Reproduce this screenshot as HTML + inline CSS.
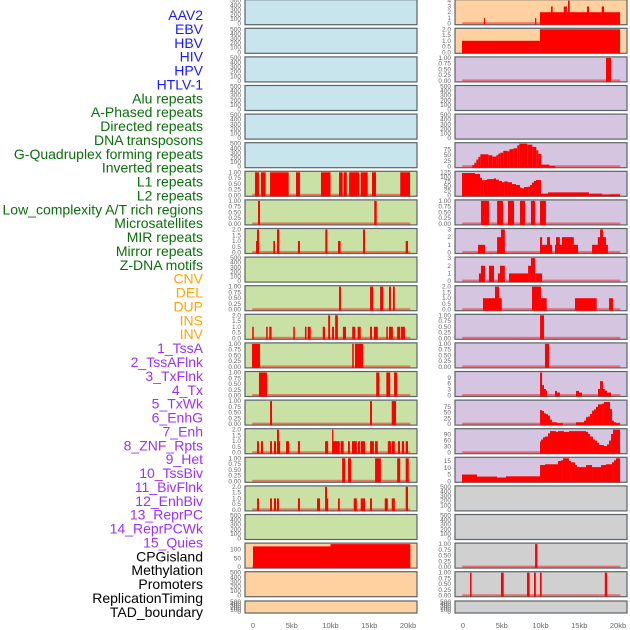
<!DOCTYPE html>
<html><head><meta charset="utf-8"><style>
body{margin:0;background:#fff;width:630px;height:630px;overflow:hidden}
svg{display:block}
</style></head><body>
<svg id="chart" width="630" height="630" xmlns="http://www.w3.org/2000/svg" font-family="Liberation Sans, sans-serif"></svg>
<script>
const trackLabels=["AAV2","EBV","HBV","HIV","HPV","HTLV-1","Alu repeats","A-Phased repeats","Directed repeats","DNA transposons","G-Quadruplex forming repeats","Inverted repeats","L1 repeats","L2 repeats","Low_complexity A/T rich regions","Microsatellites","MIR repeats","Mirror repeats","Z-DNA motifs","CNV","DEL","DUP","INS","INV","1_TssA","2_TssAFlnk","3_TxFlnk","4_Tx","5_TxWk","6_EnhG","7_Enh","8_ZNF_Rpts","9_Het","10_TssBiv","11_BivFlnk","12_EnhBiv","13_ReprPC","14_ReprPCWk","15_Quies","CPGisland","Methylation","Promoters","ReplicationTiming","TAD_boundary"];
const labelGroups=["v","v","v","v","v","v","r","r","r","r","r","r","r","r","r","r","r","r","r","s","s","s","s","s","c","c","c","c","c","c","c","c","c","c","c","c","c","c","c","k","k","k","k","k"];
const xTicks=[0,5,10,15,20];
const xTickLabels=["0","5kb","10kb","15kb","20kb"];
const L6=[[0.26,0.77,1],[1.03,1.63,1],[2.2,4.6,1],[5.55,6.06,1],[8.77,10,1],[11.1,11.57,1],[11.7,12.1,1],[12.4,13.7,1],[13.9,14.8,1],[15.35,15.87,1],[19,20.26,1]];
const L7=[[0.65,0.9,1],[15.65,15.96,1]];
const L8=[[0.39,0.6,1],[0.52,0.77,2],[2.62,2.84,1],[3.1,3.4,2],[5.8,6.06,1],[9.33,9.6,2],[10.97,11.3,1],[14.2,14.45,2],[19.7,20,1]];
const L10=[[11.1,11.35,1],[15.1,15.5,1],[16.4,16.8,1],[17.55,17.8,1],[18.06,18.3,1]];
const L11=[[-0.1,0.1,1],[1.7,1.9,1],[2.1,2.4,1],[5.2,5.4,1],[6.7,6.9,1],[7.05,7.45,1],[9,9.3,1],[9.7,9.95,2],[10.2,10.45,1],[10.6,10.95,2],[11.6,12,1],[12.8,13.2,1],[13.5,13.9,1],[15.1,15.35,1],[15.6,16.1,1],[17.2,17.4,1],[17.55,18.05,1],[18.6,19,1],[19.1,19.6,1]];
const L12=[[-0.13,0.9,1],[12.8,13,1],[13.16,14.2,1]];
const L13=[[0.77,1.8,1],[15.9,16.3,1],[17.2,17.7,1],[18.2,18.6,1]];
const L14=[[2.2,2.45,1],[15.1,15.35,1],[17.9,18.45,1]];
const L15=[[0.52,0.77,1],[1.03,1.3,1],[2.2,2.45,1],[2.7,2.97,1],[3.1,3.5,1],[3.1,3.35,2],[4.26,4.65,1],[5.8,6.06,1],[9.3,9.7,1],[10.2,11.2,1],[10.2,10.37,2],[11.3,11.7,1],[12.26,12.5,1],[12.77,13.4,1],[13.55,13.8,1],[13.9,14.45,1],[15.1,15.6,1],[15.75,16.1,1],[17.4,17.8,1],[17.9,18.3,1],[18.7,18.97,1],[19.2,19.5,1],[19.7,20,1]];
const L16=[[11.5,11.9,1],[12.26,12.65,1],[15.75,16.5,1],[18.6,19,1],[19.7,20.1,1]];
const L17=[[0.52,0.77,1],[2.2,2.45,1],[2.7,2.97,1],[3.1,3.35,1],[5.8,6.06,1],[8.26,8.65,1],[9.4,9.7,1],[9.3,9.55,2],[10.97,11.2,1],[13,13.4,1],[13.9,14.45,1],[15.1,15.35,1],[17,17.4,1],[17.9,18.3,1],[19.7,20,2]];
const L19=[[0,10,117],[10,20.3,130]];
const R0=[[2.7,2.84,1],[9.3,9.46,1],[9.93,20.26,2],[11.35,11.57,3],[13,13.4,3],[13.55,13.76,4],[16,16.25,3],[17.9,18.2,3]];
const R1=[[-0.13,9.93,1],[9.93,20.26,2]];
const R2=[[18.45,19.1,1]];
const R5=[[1.2,1.46,7],[1.46,1.72,17],[1.72,1.98,31],[1.98,2.24,43],[2.24,3.27,54],[3.27,3.78,50],[3.78,4.3,44],[4.3,4.56,50],[4.56,4.82,57],[4.82,5.2,61],[5.2,5.72,69],[5.72,5.98,67],[5.98,6.5,76],[6.5,7,80],[7,7.27,93],[7.27,8.3,100],[8.3,8.95,96],[8.95,9.46,86],[9.46,9.72,71],[9.72,10.1,56],[10.1,11.14,9],[11.14,11.9,3]];
const R6=[[-0.13,1.55,121],[1.55,2.2,116],[2.2,2.45,95],[2.45,2.7,82],[2.7,3.1,83],[3.1,4,88],[4,4.26,92],[4.26,4.65,85],[4.65,5.03,78],[5.03,5.3,71],[5.3,5.8,75],[5.8,6.32,71],[6.32,6.84,61],[6.84,7.35,56],[7.35,7.6,42],[7.6,7.87,38],[7.87,8.4,45],[8.4,8.65,47],[8.65,8.9,56],[8.9,9.16,69],[9.16,9.42,78],[9.42,10.06,83],[10.06,10.97,9],[10.97,16.26,16],[16.26,17.94,9],[17.94,18.97,3],[18.97,20.26,5]];
const R7=[[2.32,3.35,1],[4.4,5.16,1],[5.8,6.58,1],[7.35,8,1],[8.77,9.3,1],[9.94,10.7,1]];
const R8=[[1.94,2.84,1],[4.4,4.9,2],[4.9,5.4,3],[9.94,11.5,1],[9.94,10.2,2],[10.84,11.23,2],[11.87,14.84,1],[12,12.5,2],[12.77,14.3,2],[16.65,18.7,1],[17.4,18.45,2],[17.68,18.06,3]];
const R9=[[2.06,2.32,1],[2.32,2.84,2],[3.35,4,2],[4.5,4.77,1],[4.77,5.4,2],[5.94,8.4,1],[8.4,8.77,2],[8.77,9.3,3],[9.3,10.2,1]];
const R10=[[2.58,4.13,1],[4.13,4.65,2],[4.65,5,1],[8.9,10.06,2],[10.06,10.8,1],[14.45,17.25,1],[18.84,19.35,1]];
const R11=[[9.94,10.45,1]];
const R12=[[10.58,11.1,1]];
const R13=[[9.94,10.2,11.7],[10.2,10.45,5.3],[10.45,10.7,3.3],[10.7,10.84,2.5],[11.87,12.13,2.3],[12.13,12.5,1.5],[14.58,14.97,2.3],[14.97,15.35,1.5],[17.42,17.68,3.3],[17.68,18.06,7.3],[18.06,18.32,3.3],[18.32,18.58,2.5],[18.58,19.1,1.5]];
const R14=[[9.94,10.2,61],[10.2,10.45,57],[10.45,10.71,47],[10.71,10.97,43],[10.97,11.23,37],[11.23,11.48,19],[11.48,12.13,8],[12.13,12.9,4],[14.58,15.61,8],[15.61,15.87,15],[15.87,16.13,30],[16.13,16.39,33],[16.39,16.65,44],[16.65,16.9,58],[16.9,17.16,64],[17.16,17.42,75],[17.42,17.94,86],[17.94,18.19,89],[18.19,18.97,96],[18.97,19.23,65],[19.23,19.48,15],[19.48,19.74,8],[19.74,20.26,4]];
const R15=[[9.94,10.06,55],[10.06,10.32,65],[10.32,10.58,76],[10.58,10.97,80],[10.97,11.23,96],[11.23,12,107],[12,12.26,103],[12.26,13.03,107],[13.03,13.68,103],[13.68,15.87,107],[15.87,16.13,103],[16.13,16.39,93],[16.39,16.77,80],[16.77,17.03,65],[17.03,17.29,60],[17.29,17.55,49],[17.55,18.19,38],[18.19,18.58,33],[18.58,18.84,41],[18.84,19.1,60],[19.1,19.35,93],[19.35,20.26,114]];
const R16=[[-0.13,1.81,5],[1.81,4.39,3.5],[4.39,5.55,2.8],[5.55,9.94,3.7],[9.94,10.58,12],[10.58,12.26,12.6],[12.26,12.65,15],[12.65,12.9,15.5],[12.9,13.68,17],[13.68,13.94,15],[13.94,14.45,14],[14.45,14.71,12],[14.71,15.87,10.5],[15.87,16.65,12],[16.65,17.81,10.5],[17.81,18.45,12],[18.45,19.23,12.6],[19.23,19.48,14],[19.48,19.74,15.5],[19.74,20.26,17]];
const R19=[[9.3,9.6,1]];
const R20=[[0.9,1.1,1],[4.9,5.25,1],[8.26,8.6,1],[9.16,9.4,1],[9.93,10.15,1],[18.3,18.6,1]];
const T500=[0,100,200,300,400,500];
const T1=[0,0.25,0.5,0.75,1];
const T2=[0,0.5,1,1.5,2];
const T3=[0,1,2,3];
const T4=[0,1,2,3,4];
const T125=[0,25,50,75,100,125];
const T75=[0,25,50,75];
const T9=[0,3,6,9];
const T90=[0,30,60,90];
const T15=[0,5,10,15];
const TCPG=[0,50,100];

const BG={b:"#c8e4ec",g:"#c9e1a4",o:"#ffd1a0",p:"#d5c5e1",y:"#d0d0d0"};
const panels=[];
function P(r,c,bg,ym,tk,d,dec){panels.push({r:r,col:c,bg:bg,ym:ym,tk:tk,d:d,dec:dec});}
for(let r=0;r<6;r++)P(r,0,"b",500,T500,null,0);
P(6,0,"g",1,T1,L6,2);P(7,0,"g",1,T1,L7,2);P(8,0,"g",2,T2,L8,1);P(9,0,"g",500,T500,null,0);
P(10,0,"g",1,T1,L10,2);P(11,0,"g",2,T2,L11,1);P(12,0,"g",1,T1,L12,2);P(13,0,"g",1,T1,L13,2);
P(14,0,"g",1,T1,L14,2);P(15,0,"g",2,T2,L15,1);P(16,0,"g",1,T1,L16,2);P(17,0,"g",2,T2,L17,1);
P(18,0,"g",500,T500,null,0);P(19,0,"o",130,TCPG,L19,0);P(20,0,"o",500,T500,null,0);P(21,0,"o",500,T500,null,0);
P(0,1,"o",4,T4,R0,0);P(1,1,"o",2,T2,R1,1);P(2,1,"p",1,T1,R2,2);P(3,1,"p",500,T500,null,0);P(4,1,"p",500,T500,null,0);
P(5,1,"p",100,T75,R5,0);P(6,1,"p",125,T125,R6,0);P(7,1,"p",1,T1,R7,2);P(8,1,"p",3,T3,R8,0);P(9,1,"p",3,T3,R9,0);
P(10,1,"p",2,T2,R10,1);P(11,1,"p",1,T1,R11,2);P(12,1,"p",1,T1,R12,2);P(13,1,"p",11.7,T9,R13,0);
P(14,1,"p",100,T75,R14,0);P(15,1,"p",114,T90,R15,0);P(16,1,"p",17,T15,R16,0);
P(17,1,"y",500,T500,null,0);P(18,1,"y",500,T500,null,0);P(19,1,"y",1,T1,R19,2);P(20,1,"y",1,T1,R20,2);P(21,1,"y",500,T500,null,0);

const svg=document.getElementById("chart");
const NS="http://www.w3.org/2000/svg";
function el(tag,attrs,parent){const e=document.createElementNS(NS,tag);for(const k in attrs)e.setAttribute(k,attrs[k]);(parent||svg).appendChild(e);return e;}
const COLX=[245,455];
const PW=172;
function xs(col,kb){return COLX[col]+8+kb*7.75;}
function rowTop(r){return r<21?28.6*r-0.3:601;}
function rowH(r){return r<21?25:12;}
const LC={v:"#1a1aff",r:"#0a6e0a",s:"#ffa500",c:"#9b30ff",k:"#000"};
trackLabels.forEach((t,i)=>{
  const tx=el("text",{x:203,y:15+13.88*i+5,"text-anchor":"end","font-size":"14",fill:LC[labelGroups[i]]});
  
  
  tx.textContent=t;
});
panels.forEach(p=>{
  const T=rowTop(p.r),H=rowH(p.r),X=COLX[p.col];
  const g=el("g",{});
  
  
  el("rect",{x:X,y:T,width:PW,height:H,fill:BG[p.bg],stroke:"#5a6468","stroke-width":1.2},g);
  const ys=v=>T+H-1-v/p.ym*(H-2);
  p.tk.forEach(v=>{
    const t=el("text",{x:X-4,y:ys(v)+2,"text-anchor":"end","font-size":"6.5",fill:"#666"},g);
    
    
    t.textContent=v.toFixed(p.dec);
  });
  if(p.d){
    const base=el("rect",{x:xs(p.col,-0.1),y:ys(0)-1.5,width:xs(p.col,20.3)-xs(p.col,-0.1),height:2,fill:"rgba(255,0,0,0.45)"},g);
    
    
    p.d.forEach(s=>{
      const x0=xs(p.col,s[0]),x1=xs(p.col,s[1]);
      const yv=Math.max(T,ys(s[2]));
      const b=el("rect",{x:x0,y:yv,width:Math.max(1,x1-x0),height:ys(0)-yv+1,fill:"#ff0000"},g);
      
      
    });
  }
});
[0,1].forEach(c=>{
  xTicks.forEach((v,i)=>{
    const t=el("text",{x:xs(c,v),y:628,"text-anchor":"middle","font-size":"7.5",fill:"#666"});
    
    
    t.textContent=xTickLabels[i];
  });
});
</script>
</body></html>
